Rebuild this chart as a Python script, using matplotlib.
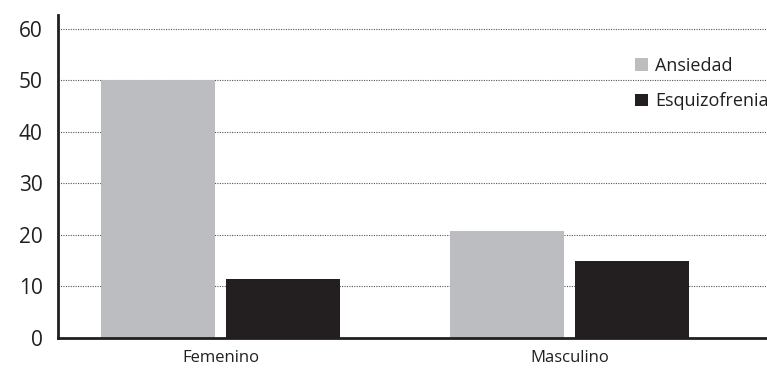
import numpy as np
import matplotlib.pyplot as plt

grupos = ["Femenino", "Masculino"]
ansiedad = [50, 20.8]
esquizofrenia = [11.5, 15.0]

plt.rcParams['font.family'] = ['Open Sans', 'DejaVu Sans']

fig = plt.figure(figsize=(7.67, 3.70), dpi=100)
ax = fig.add_axes([58/767, 32/370, 1 - 58/767, 323/370])

x = np.arange(len(grupos))
w = 0.327
off = 0.179
ax.bar(x - off, ansiedad, w, color="#bcbdc0", label="Ansiedad", zorder=2)
ax.bar(x + off, esquizofrenia, w, color="#231f20", label="Esquizofrenia", zorder=2)

ax.set_xlim(-0.466, 1.566)
ax.set_ylim(0, 62.7)
ax.set_yticks(range(0, 70, 10))
ax.set_xticks(x)
ax.set_xticklabels(grupos, fontsize=12, color="#231f20")
ax.tick_params(axis='y', labelsize=15, length=0, pad=11, labelcolor="#231f20")
ax.tick_params(axis='x', length=0, pad=9)

for v in range(10, 70, 10):
    ax.axhline(v, color="#555555", lw=0.8, ls=(0, (1, 1.2)), zorder=1)

for s in ["top", "right"]:
    ax.spines[s].set_visible(False)
for s in ["left", "bottom"]:
    ax.spines[s].set_linewidth(2)
    ax.spines[s].set_color("#231f20")

ax.legend(loc="upper right", bbox_to_anchor=(1.025, 0.92), frameon=False,
          fontsize=13, handlelength=0.7, handleheight=0.7, handletextpad=0.4,
          labelspacing=0.95, labelcolor="#231f20")

fig.savefig("out.png", dpi=100)
